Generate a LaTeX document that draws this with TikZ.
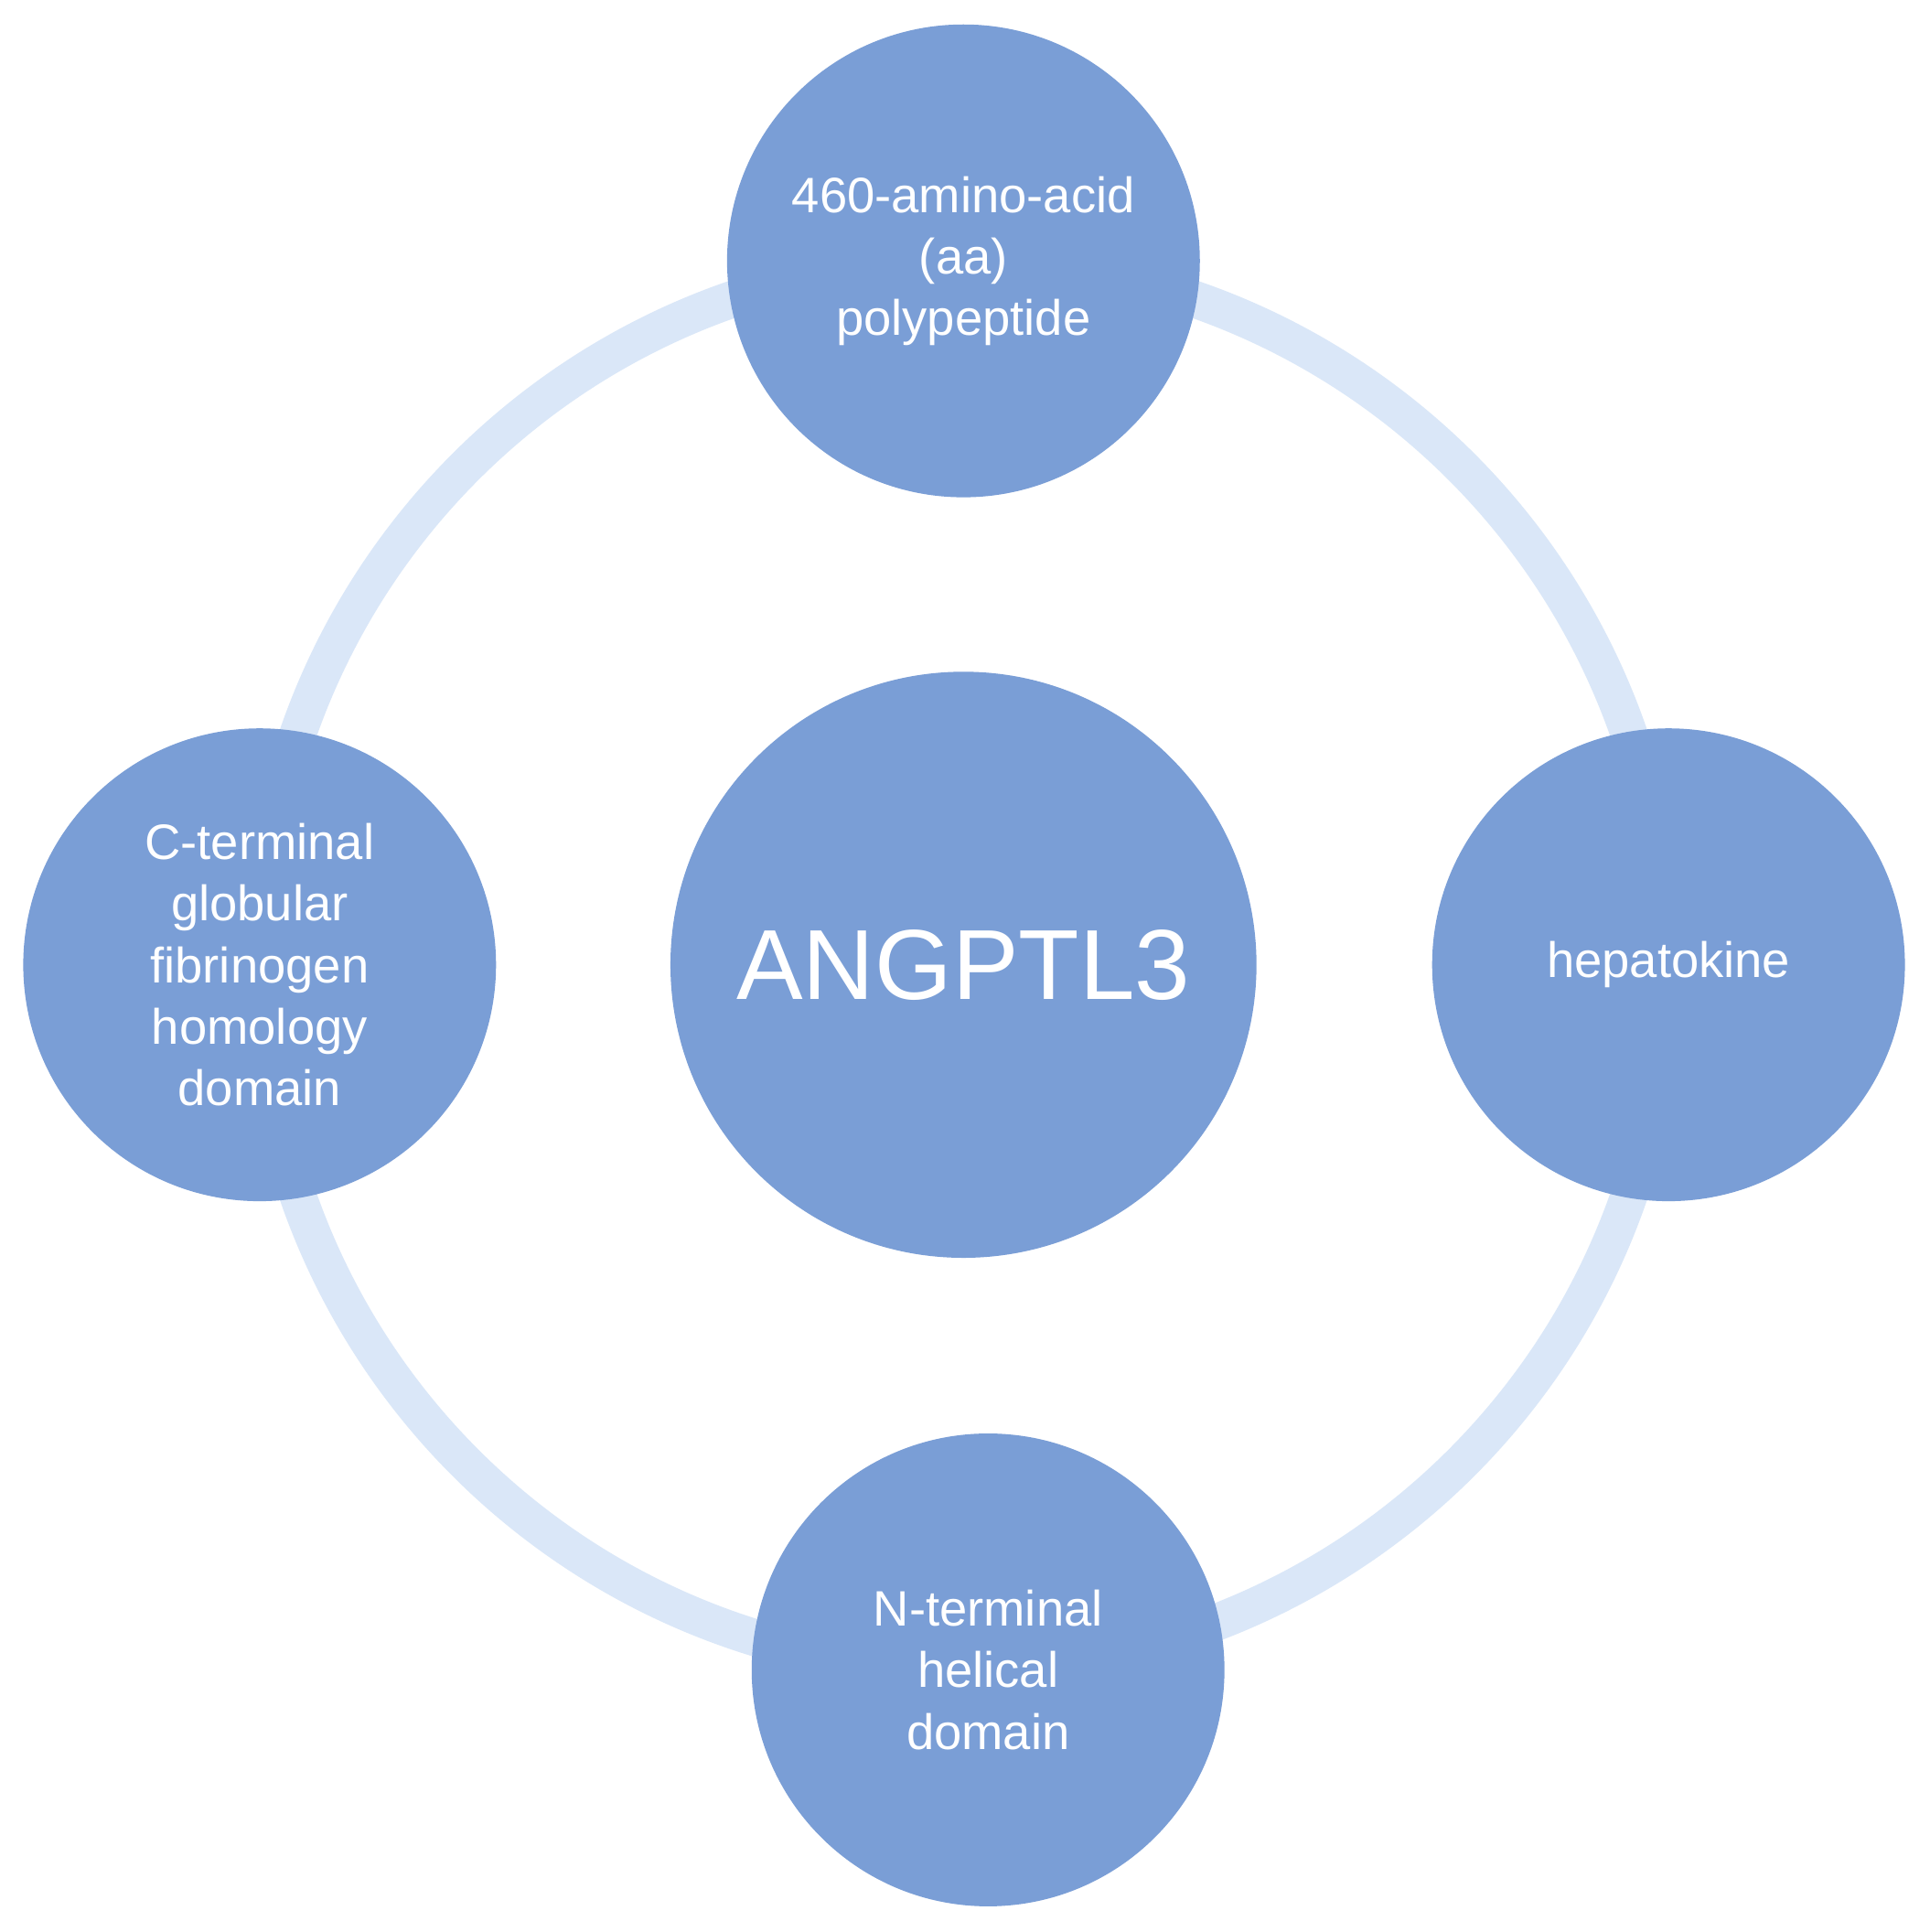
\documentclass[tikz,border=0pt]{standalone}
\usepackage{fontspec}
\setmainfont{Liberation Sans}
\definecolor{nodefill}{HTML}{7A9ED6}
\definecolor{ringcol}{HTML}{DAE7F8}
\begin{document}
\begin{tikzpicture}[x=0.01cm,y=-0.01cm,
  bub/.style={circle,fill=nodefill,draw=none,minimum size=3.84cm,inner sep=0pt,text=white,align=center,font=\fontsize{11.5}{14.2}\selectfont},
  big/.style={circle,fill=nodefill,draw=none,minimum size=4.76cm,inner sep=0pt,text=white,font=\fontsize{23}{27}\selectfont}]
\useasboundingbox[fill=white] (0,0) rectangle (1568,1570);
\coordinate (c) at (783,784);
\draw[ringcol,line width=0.3cm] (c) circle[radius=5.72cm];
\node[big] (center) at (c) {ANGPTL3};
\node[bub] (top) at (783,212) {460-amino-acid\\(aa)\\polypeptide};
\node[bub] (left) at (211,784) {C-terminal\\globular\\fibrinogen\\homology\\domain};
\node[bub] (right) at (1356,784) {hepatokine};
\node[bub] (bottom) at (803,1357) {N-terminal\\helical\\domain};
\end{tikzpicture}
\end{document}
